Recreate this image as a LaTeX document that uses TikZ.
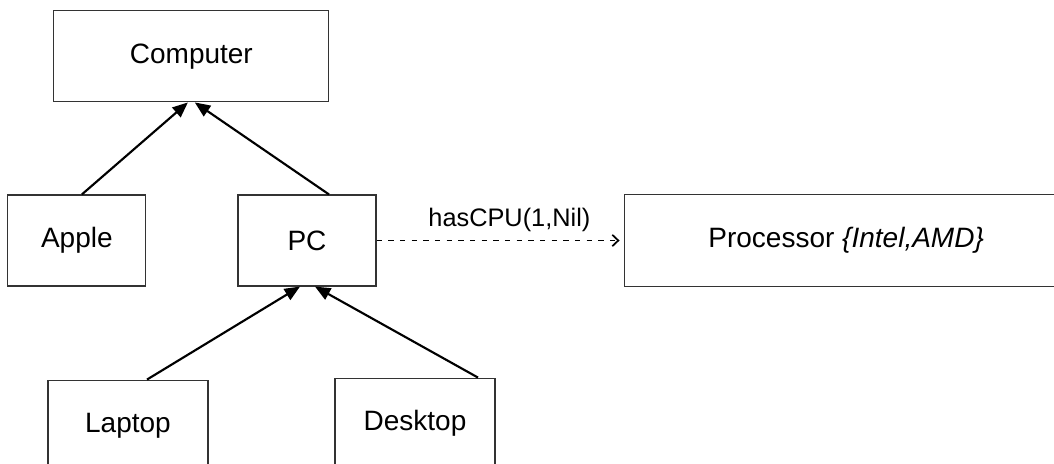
\documentclass[tikz,border=0pt]{standalone}
\usepackage{fontspec}
\setmainfont{Liberation Sans}
\usepackage{tikz}
\usetikzlibrary{positioning, arrows.meta}

\begin{document}
\begin{tikzpicture}[>={Triangle[length=11.5pt,width=9.5pt]},auto,
                    entity/.style={draw=black!80, line width=0.85pt, minimum height=68.25pt,
                                   inner sep=0pt, font=\fontsize{21}{25}\selectfont},
                    isa/.style={->, line width=1.6pt},
                    assoc/.style={-{Straight Barb[length=4.5pt,width=8.5pt,line width=1.3pt]}, line width=1.3pt,
                                  dash pattern=on 4pt off 4.75pt, shorten >=3pt}]
                        \useasboundingbox (0,0) rectangle (790.5pt,-348pt);
                        \clip (0,0) rectangle (790.5pt,-348pt);
                        \node[entity, minimum width=103.5pt] (pc)        at (230.25pt,-180.375pt)              {PC};
                        \node[entity, minimum width=103.5pt] (apple)     [left=68.25pt of pc]                  {Apple};
                        \node[entity, minimum width=206.25pt] (computer) [above=69pt of apple, xshift=85.875pt] {Computer};
                        \node[entity, minimum width=333pt, minimum height=69pt] (processor) [right=185.25pt of pc] {Processor \textit{\{Intel,AMD\}}};
                        \node[entity, minimum width=120pt]   (laptop)    [below=69.75pt of pc, xshift=-134.25pt] {Laptop};
                        \node[entity, minimum width=120pt]   (desktop)   [below=68.25pt of pc, xshift=81pt]      {Desktop};
                        \path[isa] ([xshift=3.75pt]apple.north)   edge ([xshift=-2.6pt]computer.south);
                        \path[isa] ([xshift=16.5pt]pc.north)      edge ([xshift=2.6pt]computer.south);
                        \path[isa] ([xshift=14.25pt]laptop.north) edge ([xshift=-5.25pt]pc.south);
                        \path[isa] ([xshift=47.25pt]desktop.north) edge ([xshift=6pt]pc.south);
                        \path[assoc] (pc) edge node[above=2.4pt, inner sep=3.33pt, font=\fontsize{19}{23}\selectfont, xshift=7pt] {hasCPU(1,Nil)} (processor);
                    \end{tikzpicture}
\end{document}
